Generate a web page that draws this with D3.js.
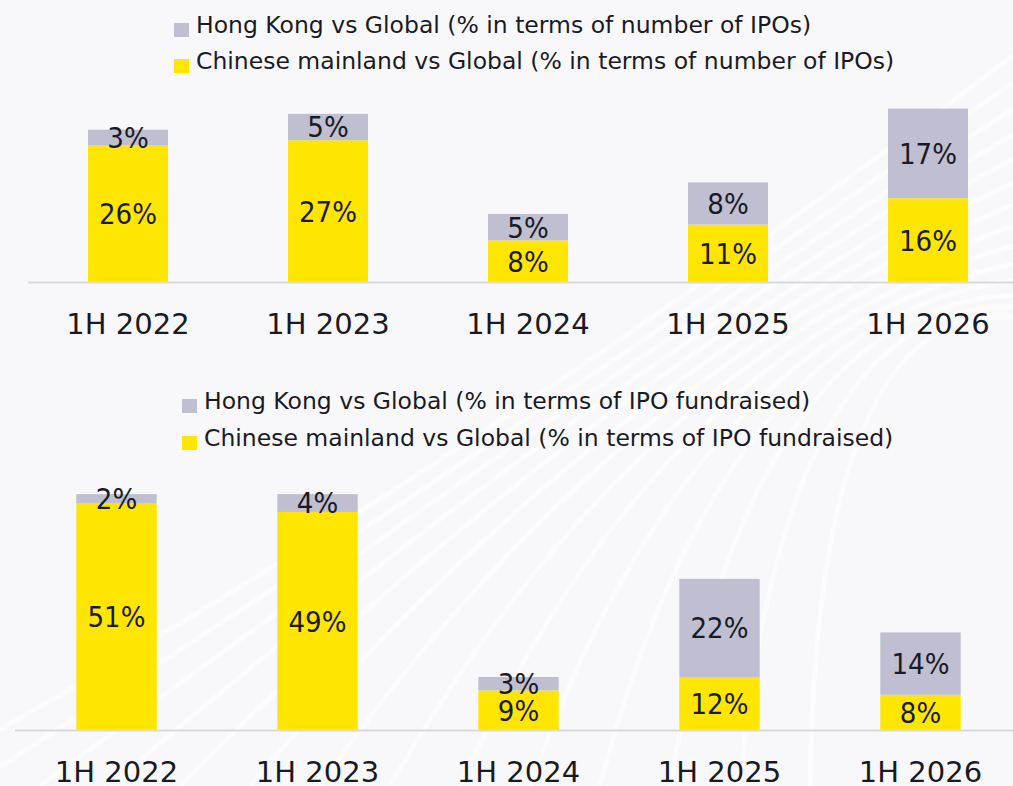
<!DOCTYPE html>
<html><head><meta charset="utf-8">
<script src="https://cdn.jsdelivr.net/npm/d3@7"></script>
<style>
html,body{margin:0;padding:0;background:#f9f9fb;}
svg{display:block;}
</style></head>
<body>
<svg id="c" width="1013" height="786"></svg>
<script>
const categories = ["1H 2022","1H 2023","1H 2024","1H 2025","1H 2026"];
// Chart 1: % in terms of number of IPOs
const mainlandCount = [26,27,8,11,16];
const hongKongCount = [3,5,5,8,17];
// Chart 2: % in terms of IPO fundraised
const mainlandFunds = [51,49,9,12,8];
const hongKongFunds = [2,4,3,22,14];
const legendCount = ["Hong Kong vs Global (% in terms of number of IPOs)","Chinese mainland vs Global (% in terms of number of IPOs)"];
const legendFunds = ["Hong Kong vs Global (% in terms of IPO fundraised)","Chinese mainland vs Global (% in terms of IPO fundraised)"];

const YELLOW = "#FFE600", GREY = "#C0BFD1", TEXT = "#1a1a24";
const svg = d3.select("#c");

// faint background swirls
const bg = svg.append("g");
bg.append("rect").attr("width",1013).attr("height",786).attr("fill","#f8f8fa");
for (let i=0;i<14;i++){
  bg.append("path")
    .attr("d",`M ${-100+i*70} 786 Q ${560+i*20} ${420-i*25} ${1213} ${-100+i*40}`)
    .attr("fill","none").attr("stroke","#ffffff").attr("stroke-width",5).attr("opacity",0.5);
}

function drawChart(cfg){
  const g = svg.append("g");
  const x = d3.scaleBand().domain(categories).range(cfg.xRange).paddingInner(0.6).paddingOuter(0.3);
  const y = d3.scaleLinear().domain([0,100]).range([cfg.base, cfg.base - 100*cfg.pxPer]);
  const rows = categories.map((c,i)=>({c, m:cfg.mainland[i], h:cfg.hk[i]}));
  const stack = d3.stack().keys(["m","h"])(rows);
  const colors = {m:YELLOW,h:GREY};
  stack.forEach(layer=>{
    g.selectAll(null).data(layer).enter().append("rect")
      .attr("x",d=>x(d.data.c)).attr("width",x.bandwidth())
      .attr("y",d=>y(d[1])).attr("height",d=>y(d[0])-y(d[1]))
      .attr("fill",colors[layer.key]);
  });
  stack.forEach(layer=>{
    g.selectAll(null).data(layer).enter().append("text")
      .attr("x",d=>x(d.data.c)+x.bandwidth()/2)
      .attr("y",d=>(y(d[0])+y(d[1]))/2)
      .attr("dy","0.36em")
      .attr("text-anchor","middle")
      .attr("font-family","DejaVu Sans Condensed, DejaVu Sans")
      .attr("font-stretch","condensed")
      .attr("font-size",29).attr("fill",TEXT)
      .text(d=>(d[1]-d[0])+"%");
  });
  // baseline axis
  const axis = d3.axisBottom(x).tickSize(0).tickPadding(cfg.tickPad);
  const ag = g.append("g").attr("transform",`translate(0,${cfg.base})`).call(axis);
  ag.select(".domain").attr("stroke","#d9d9dc").attr("stroke-width",2)
    .attr("d",`M${cfg.lineX[0]},0H${cfg.lineX[1]}`);
  ag.selectAll(".tick text").attr("font-family","DejaVu Sans").attr("font-size",29).attr("fill",TEXT);
  // legend
  const lg = g.append("g");
  cfg.legend.forEach((t,i)=>{
    lg.append("rect").attr("x",cfg.legX).attr("y",cfg.legY+i*cfg.legStep-10).attr("width",15).attr("height",14)
      .attr("fill",i===0?GREY:YELLOW);
    lg.append("text").attr("x",cfg.legX+22).attr("y",cfg.legY+i*cfg.legStep)
      .attr("font-family","DejaVu Sans")
      .attr("font-size",23.5).attr("fill",TEXT).text(t);
  });
}

drawChart({xRange:[28,1028], base:282.5, pxPer:5.27, mainland:mainlandCount, hk:hongKongCount,
  tickPad:31, lineX:[28,1013], legend:legendCount, legX:174, legY:33, legStep:36});
drawChart({xRange:[16,1021], base:730.5, pxPer:4.46, mainland:mainlandFunds, hk:hongKongFunds,
  tickPad:31, lineX:[15,1013], legend:legendFunds, legX:182, legY:409, legStep:37});
</script>
</body></html>
